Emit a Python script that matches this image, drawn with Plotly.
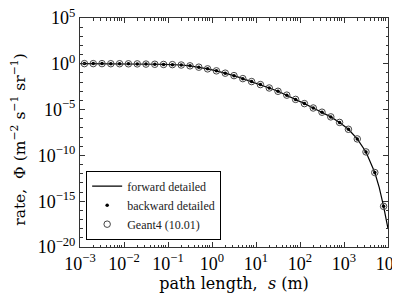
import plotly.graph_objects as go

# path length s (m) at marker positions
s_pts = [1.26e-3, 2.00e-3, 3.16e-3, 5.01e-3, 7.94e-3,
         1.26e-2, 2.00e-2, 3.16e-2, 5.01e-2, 7.94e-2,
         1.26e-1, 2.00e-1, 3.16e-1, 5.01e-1, 7.94e-1,
         1.26e0, 2.00e0, 3.16e0, 5.01e0, 7.94e0,
         1.26e1, 2.00e1, 3.16e1, 5.01e1, 7.94e1,
         1.26e2, 2.00e2, 3.16e2, 5.01e2, 7.94e2,
         1.26e3, 2.00e3, 3.16e3, 5.01e3, 7.94e3]
# rate Phi (m^-2 s^-1 sr^-1)
phi_backward = [1.05, 1.05, 1.05, 1.02, 1.02,
                1.00, 0.98, 0.93, 0.89, 0.85,
                0.81, 0.74, 0.60, 0.43, 0.28,
                0.17, 0.095, 0.051, 0.024, 0.0115,
                5.4e-3, 2.3e-3, 1.0e-3, 3.8e-4, 1.3e-4,
                4.5e-5, 1.5e-5, 5.2e-6, 1.6e-6, 4.0e-7,
                7.1e-8, 6.3e-9, 2.4e-10, 1.35e-12, 2.75e-16]
phi_geant4 = list(phi_backward)

# forward detailed line
s_line = [1.0e-3] + s_pts[:34] + [6.31e3, 7.94e3, 8.91e3, 1.0e4]
phi_line = [1.05] + phi_backward[:34] + [3.2e-14, 2.75e-16, 2.5e-17, 1.0e-18]

x_tickvals = [1e-3, 1e-2, 1e-1, 1e0, 1e1, 1e2, 1e3, 1e4]
x_ticktext = ["10<sup>−3</sup>", "10<sup>−2</sup>", "10<sup>−1</sup>", "10<sup>0</sup>",
              "10<sup>1</sup>", "10<sup>2</sup>", "10<sup>3</sup>", "10<sup>4</sup>"]
y_tickvals = [1e5, 1e0, 1e-5, 1e-10, 1e-15, 1e-20]
y_ticktext = ["10<sup>5</sup>", "10<sup>0</sup>", "10<sup>−5</sup>", "10<sup>−10</sup>",
              "10<sup>−15</sup>", "10<sup>−20</sup>"]
y_minor = [1e4, 1e3, 1e2, 1e1, 1e-1, 1e-2, 1e-3, 1e-4,
           1e-6, 1e-7, 1e-8, 1e-9, 1e-11, 1e-12, 1e-13, 1e-14,
           1e-16, 1e-17, 1e-18, 1e-19]

TICKFONT = "Liberation Serif"
TITLEFONT = "DejaVu Serif"

fig = go.Figure()
fig.add_trace(go.Scatter(x=s_line, y=phi_line, mode="lines",
                         line=dict(color="black", width=1.2),
                         name="forward detailed"))
fig.add_trace(go.Scatter(x=s_pts, y=phi_backward, mode="markers",
                         marker=dict(symbol="circle", size=3.5, color="black"),
                         name="backward detailed"))
fig.add_trace(go.Scatter(x=s_pts, y=phi_geant4, mode="markers",
                         marker=dict(symbol="circle-open", size=6.5, color="#444444",
                                     line=dict(width=1)),
                         name="Geant4 (10.01)"))

axis_common = dict(type="log", showgrid=False, zeroline=False, automargin=False,
                   showline=True, linecolor="#333333", linewidth=1, mirror="allticks",
                   ticks="inside", ticklen=5, tickcolor="#333333", tickangle=0,
                   tickfont=dict(family=TICKFONT, size=18, color="black"))

fig.update_xaxes(range=[-3, 4], tickvals=x_tickvals, ticktext=x_ticktext,
                 minor=dict(ticks="inside", ticklen=2.5, tickcolor="#333333", dtick="D1"),
                 title=dict(text="path length,  <i>s</i> (m)",
                            font=dict(family=TITLEFONT, size=16, color="black"), standoff=2),
                 **axis_common)
fig.update_yaxes(range=[-20, 5], tickvals=y_tickvals, ticktext=y_ticktext,
                 minor=dict(ticks="inside", ticklen=2.5, tickcolor="#333333",
                            tickvals=y_minor),
                 **axis_common)

# y-axis title placed as rotated text left of the tick labels
fig.add_annotation(text="rate,  Φ (m<sup>−2</sup> s<sup>−1</sup> sr<sup>−1</sup>)",
                   xref="paper", yref="paper", x=-0.20, y=0.47,
                   xanchor="center", yanchor="middle", textangle=-90, showarrow=False,
                   font=dict(family=TITLEFONT, size=15.5, color="black"))

# the page body has an 8 px default margin, so the figure is offset by 8 px
fig.update_layout(width=400, height=300,
                  margin=dict(l=72, r=20, t=10, b=61),
                  paper_bgcolor="white", plot_bgcolor="white",
                  showlegend=True,
                  legend=dict(x=0.02, y=0.032, xanchor="left", yanchor="bottom",
                              bgcolor="white", bordercolor="black", borderwidth=1,
                              font=dict(family=TICKFONT, size=12, color="#222222"),
                              itemwidth=30, tracegroupgap=0))
fig.write_html("out.html")
